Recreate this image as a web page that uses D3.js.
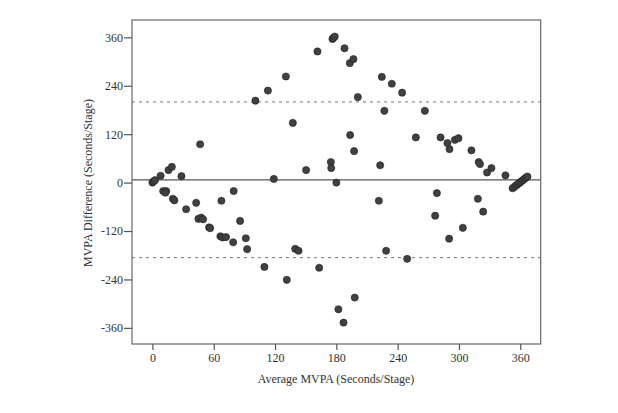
<!DOCTYPE html>
<html><head><meta charset="utf-8">
<script src="https://cdn.jsdelivr.net/npm/d3@7"></script>
<style>body{margin:0;background:#fff;} svg{display:block;}</style>
</head><body>
<svg id="chart" width="618" height="413"></svg>
<script>
// Bland-Altman data: average MVPA (x) and MVPA difference (y), seconds/stage
const avgValues = [0,1,2.5,8,15.7,19,28.4,46.7,100.8,113,130.6,137.4,118.8,
  10.5,13.5,12.7,20,21.5,33,42.8,45,47.7,49.6,55.5,56.5,67.5,66.5,68.7,72,79,79.5,85.8,91.4,92.7,109.6,131.5,139.7,143,163.2,182,187,198,228.7,249.3,221.6,278.4,276.7,290.4,303.8,318.5,323.7,
  150.4,161.5,176.2,177.2,178.5,188,193.2,196.7,201,193.5,197.4,174.6,175,180,224.5,227,234.3,244.4,222.9,266.6,257.8,282,288.7,290.7,296,299.5,312.2,319.3,320.6,327.5,331.8,345.5,
  352.5,354,355.5,357,358.5,360,361.5,363,364.5,366,367];
const diffValues = [0,3,6,17,31,39,16,95,203,228,263,148,9,
  -21,-21,-25,-40,-44,-66,-50,-90,-87,-91,-111,-113,-45,-133,-136,-135,-148,-21,-95,-138,-165,-209,-241,-164,-169,-211,-314,-347,-285,-169,-189,-45,-26,-82,-139,-112,-40,-72,
  31,325,356,359,362,333,296,306,212,118,78,51,36,0,262,178,245,223,43,178,112,112,98,83,106,110,80,51,46,25,36,18,
  -14,-11,-8,-5,-2,1,4,7,10,13,15];
const meanDiff = 7;
const upperLoA = 200;
const lowerLoA = -186;
const xTicks = [0,60,120,180,240,300,360];
const yTicks = [-360,-240,-120,0,120,240,360];
const xTitle = "Average MVPA (Seconds/Stage)";
const yTitle = "MVPA Difference (Seconds/Stage)";

const svg = d3.select("#chart");
const L = 132, R = 540.7, T = 20, B = 344;
const x = d3.scaleLinear().domain([-20, 380]).range([L, R]);
const y = d3.scaleLinear().domain([-400, 403]).range([B, T]);
const font = "'Liberation Serif','Times New Roman',serif";

// reference lines
svg.append("line").attr("x1", L).attr("x2", R).attr("y1", y(upperLoA)).attr("y2", y(upperLoA))
  .attr("stroke", "#777").attr("stroke-width", 1).attr("stroke-dasharray", "3,4");
svg.append("line").attr("x1", L).attr("x2", R).attr("y1", y(lowerLoA)).attr("y2", y(lowerLoA))
  .attr("stroke", "#777").attr("stroke-width", 1).attr("stroke-dasharray", "3,4");
svg.append("line").attr("x1", L).attr("x2", R).attr("y1", y(meanDiff)).attr("y2", y(meanDiff))
  .attr("stroke", "#555").attr("stroke-width", 1.2);

// points
svg.append("g").selectAll("circle").data(avgValues.map((a, i) => [a, diffValues[i]]))
  .join("circle")
  .attr("cx", d => x(d[0])).attr("cy", d => y(d[1])).attr("r", 3.6)
  .attr("fill", "#404040").attr("stroke", "#222").attr("stroke-width", 0.6);

// frame
svg.append("rect").attr("x", L).attr("y", T).attr("width", R - L).attr("height", B - T)
  .attr("fill", "none").attr("stroke", "#666").attr("stroke-width", 1.2);

// axes
const fmt = d => String(d); // plain hyphen-minus like the reference
const xAxis = svg.append("g").attr("transform", `translate(0,${B})`)
  .call(d3.axisBottom(x).tickValues(xTicks).tickSize(6).tickPadding(3).tickFormat(fmt));
const yAxis = svg.append("g").attr("transform", `translate(${L},0)`)
  .call(d3.axisLeft(y).tickValues(yTicks).tickSize(8).tickPadding(1).tickFormat(fmt));
[xAxis, yAxis].forEach(g => {
  g.select(".domain").remove();
  g.selectAll(".tick line").attr("stroke", "#555").attr("stroke-width", 1.2);
  g.selectAll(".tick text").attr("fill", "#333").style("font-family", font).style("font-size", "12px");
});

// titles
svg.append("text").attr("x", 336).attr("y", 383).attr("text-anchor", "middle")
  .style("font-family", font).style("font-size", "12px").attr("fill", "#333").text(xTitle);
svg.append("text").attr("transform", "translate(92,183) rotate(-90)").attr("text-anchor", "middle")
  .style("font-family", font).style("font-size", "12px").attr("fill", "#333").text(yTitle);
</script>
</body></html>
